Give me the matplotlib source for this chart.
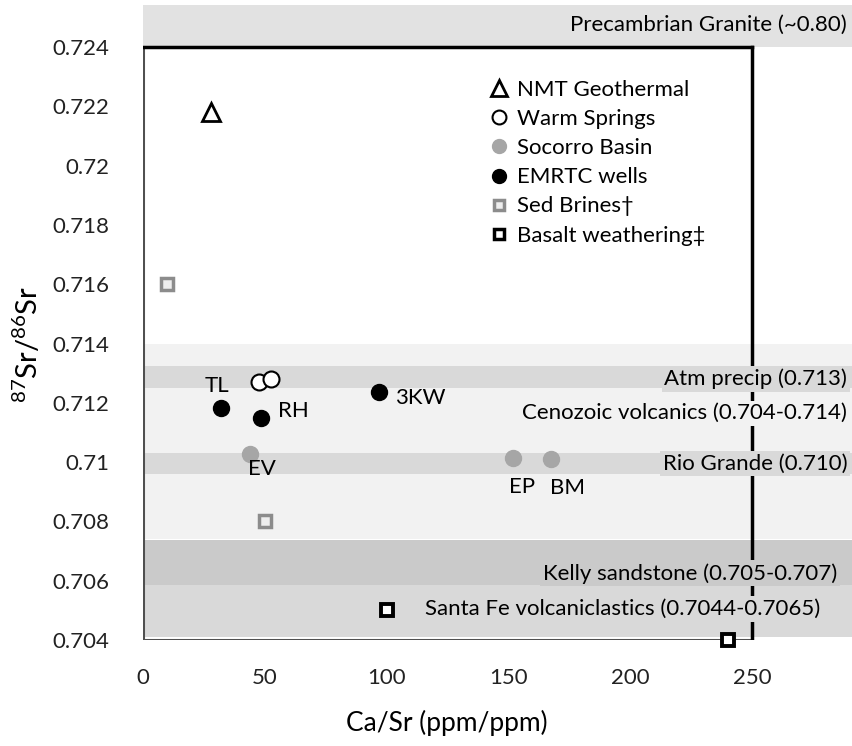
import matplotlib
matplotlib.use("Agg")
import matplotlib.pyplot as plt
from matplotlib.lines import Line2D

plt.rcParams['font.family'] = ['Lato', 'DejaVu Sans']
plt.rcParams['mathtext.fontset'] = 'custom'
plt.rcParams['mathtext.rm'] = 'Lato'
plt.rcParams['mathtext.it'] = 'Lato'

# Sample data: Ca/Sr (ppm/ppm) and 87Sr/86Sr
nmt_x = [28]
nmt_y = [0.7218]
warm_x = [47.5, 52.5]
warm_y = [0.7127, 0.7128]
socorro_x = [44, 152, 167.5]
socorro_y = [0.71027, 0.71014, 0.7101]
socorro_lbl = ["EV", "EP", "BM"]
emrtc_x = [32, 48.5, 97]
emrtc_y = [0.71182, 0.71149, 0.71236]
emrtc_lbl = ["TL", "RH", "3KW"]
brine_x = [10, 50]
brine_y = [0.716, 0.708]
basalt_x = [100, 240]
basalt_y = [0.705, 0.704]

# Reference ranges drawn as horizontal bands
band_lo = [0.7240, 0.7074, 0.7125, 0.7096, 0.70585, 0.7041]
band_hi = [0.72545, 0.7140, 0.71325, 0.7103, 0.70737, 0.70585]
band_col = ["#e2e2e2", "#f2f2f2", "#d9d9d9", "#d9d9d9", "#cacaca", "#d9d9d9"]
band_txt = ["Precambrian Granite (~0.80)", "Cenozoic volcanics (0.704-0.714)",
            "Atm precip (0.713)", "Rio Grande (0.710)",
            "Kelly sandstone (0.705-0.707)", "Santa Fe volcaniclastics (0.7044-0.7065)"]
band_txt_y = [0.72475, 0.71165, 0.71281, 0.70995, 0.70625, 0.70505]
band_txt_x = [289, 289, 289, 289, 285, 278]

x_ticks = [0, 50, 100, 150, 200, 250]
y_ticks = [0.704, 0.706, 0.708, 0.710, 0.712, 0.714, 0.716, 0.718, 0.720, 0.722, 0.724]
y_tick_lbl = ["0.704", "0.706", "0.708", "0.71", "0.712", "0.714", "0.716",
              "0.718", "0.72", "0.722", "0.724"]

W, H = 852, 746
fig = plt.figure(figsize=(W / 100, H / 100), dpi=100)
ax = fig.add_axes([143 / W, 106 / H, (W - 143) / W, (640 - 5) / H])
ax.set_xlim(0, 291)
ax.set_ylim(0.704, 0.72542)
for s in ax.spines.values():
    s.set_visible(False)

for lo, hi, c in zip(band_lo, band_hi, band_col):
    ax.fill_between([0, 291], lo, hi, color=c, lw=0, zorder=0)

# plot frame spanning the data range
ax.plot([0, 0], [0.704, 0.724], color="#505050", lw=2.2, zorder=2, solid_capstyle="projecting")
ax.plot([0, 250], [0.704, 0.704], color="#505050", lw=2.2, zorder=2, solid_capstyle="projecting")
ax.plot([0, 250], [0.724, 0.724], color="black", lw=2.5, zorder=2, solid_capstyle="projecting")
ax.plot([250, 250], [0.704, 0.724], color="black", lw=2.5, zorder=2, solid_capstyle="projecting")

for lo, hi, c, t, ty, tx in zip(band_lo, band_hi, band_col, band_txt, band_txt_y, band_txt_x):
    ax.text(tx, ty, t, ha="right", va="center", fontsize=16, zorder=3,
            bbox=dict(facecolor=c, edgecolor="none", pad=2))

ax.plot(nmt_x, nmt_y, ls="none", marker="^", ms=13, mfc="white", mec="black", mew=2, zorder=5)
ax.plot(warm_x, warm_y, ls="none", marker="o", ms=11.5, mfc="white", mec="black", mew=1.5, zorder=5)
ax.plot(socorro_x, socorro_y, ls="none", marker="o", ms=11.5, mfc="#a6a6a6", mec="#a6a6a6", zorder=5)
ax.plot(emrtc_x, emrtc_y, ls="none", marker="o", ms=11.5, mfc="black", mec="black", zorder=5)
ax.plot(brine_x, brine_y, ls="none", marker="s", ms=8, mfc="#eeeeee", mec="#8c8c8c", mew=2.5, zorder=5)
ax.plot(basalt_x, basalt_y, ls="none", marker="s", ms=8, mfc="white", mec="black", mew=2.8,
        zorder=6, clip_on=False)

# point labels (offsets in points)
lbl_off = {"TL": (-3, 16, "center"), "RH": (12, 5, "left"), "3KW": (11, -4, "left"),
           "EV": (8.5, -11, "center"), "EP": (6, -21, "center"), "BM": (12, -21, "center")}
for xs, ys, ls in ((emrtc_x, emrtc_y, emrtc_lbl), (socorro_x, socorro_y, socorro_lbl)):
    for x, y, l in zip(xs, ys, ls):
        dx, dy, ha = lbl_off[l]
        ax.annotate(l, (x, y), xytext=(dx, dy), textcoords="offset points",
                    ha=ha, va="center", fontsize=16, zorder=6)

ax.set_xticks(x_ticks)
ax.set_xticklabels([str(v) for v in x_ticks])
ax.set_yticks(y_ticks)
ax.set_yticklabels(y_tick_lbl)
ax.tick_params(length=0, labelsize=16, colors="#222222")
ax.tick_params(axis="x", pad=20)
ax.tick_params(axis="y", pad=24)
ax.set_xlabel("Ca/Sr (ppm/ppm)", fontsize=19, va="center")
ax.xaxis.set_label_coords((447 - 143) / 709, -83 / 635)
ax.set_ylabel("$^{87}$Sr/$^{86}$Sr", fontsize=21, va="center")
ax.yaxis.set_label_coords((27 - 143) / 709, (640 - 344) / 635)

handles = [
    Line2D([], [], ls="none", marker="^", ms=11, mfc="white", mec="black", mew=2),
    Line2D([], [], ls="none", marker="o", ms=10, mfc="white", mec="black", mew=1.5),
    Line2D([], [], ls="none", marker="o", ms=10, mfc="#a6a6a6", mec="#a6a6a6"),
    Line2D([], [], ls="none", marker="o", ms=10, mfc="black", mec="black"),
    Line2D([], [], ls="none", marker="s", ms=7.5, mfc="#eeeeee", mec="#8c8c8c", mew=2.5),
    Line2D([], [], ls="none", marker="s", ms=7.5, mfc="white", mec="black", mew=2.5),
]
labels = ["NMT Geothermal", "Warm Springs", "Socorro Basin", "EMRTC wells",
          "Sed Brines\u2020", "Basalt weathering\u2021"]
leg = ax.legend(handles, labels, loc="upper left", bbox_to_anchor=(490 / W, 1 - 80 / H),
                bbox_transform=fig.transFigure, frameon=False, fontsize=16,
                handlelength=0.8, handletextpad=0.4, labelspacing=0.41, borderpad=0,
                borderaxespad=0)
leg.set_zorder(7)

fig.savefig("out.png", dpi=100)
